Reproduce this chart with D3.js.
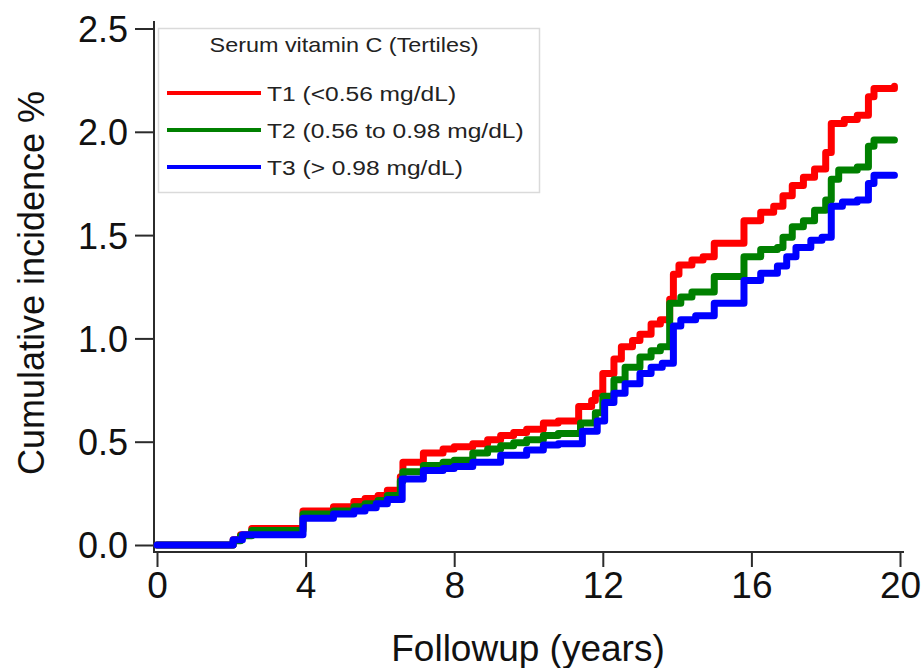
<!DOCTYPE html>
<html>
<head>
<meta charset="utf-8">
<script src="https://cdn.jsdelivr.net/npm/d3@7"></script>
<style>
  html, body { margin: 0; padding: 0; background: #fff; }
  svg { display: block; font-family: "Liberation Sans", Arial, sans-serif; }
</style>
</head>
<body>
<div id="chart"></div>
<script>
// step points: [years, cumulative incidence %]
const T1 = [
  [0, 0], [2.05, 0.025], [2.25, 0.05], [2.55, 0.08], [3.93, 0.165], [4.75, 0.185],
  [5.3, 0.21], [5.6, 0.225], [5.95, 0.24], [6.2, 0.265], [6.55, 0.33], [6.62, 0.40],
  [7.17, 0.445], [7.7, 0.465], [8.0, 0.475], [8.5, 0.49], [8.9, 0.51], [9.25, 0.53],
  [9.6, 0.545], [9.95, 0.56], [10.4, 0.59], [10.8, 0.60], [11.35, 0.67], [11.7, 0.70],
  [11.8, 0.735], [12.0, 0.83], [12.3, 0.90], [12.5, 0.96], [12.8, 0.99], [13.0, 1.02],
  [13.3, 1.07], [13.55, 1.09], [13.8, 1.19], [13.9, 1.31], [14.05, 1.355], [14.4, 1.38],
  [14.7, 1.395], [15.0, 1.46], [15.8, 1.57], [16.25, 1.61], [16.6, 1.64], [16.85, 1.69],
  [17.1, 1.74], [17.4, 1.78], [17.7, 1.82], [18.0, 1.90], [18.15, 2.04], [18.5, 2.06],
  [18.85, 2.08], [19.15, 2.17], [19.3, 2.21], [19.85, 2.22]
];
const T2 = [
  [0, 0], [2.05, 0.02], [2.25, 0.045], [2.55, 0.07], [3.93, 0.15], [4.75, 0.165],
  [5.3, 0.185], [5.6, 0.2], [5.95, 0.215], [6.2, 0.24], [6.55, 0.31], [6.62, 0.355],
  [7.17, 0.385], [7.7, 0.40], [8.0, 0.41], [8.5, 0.445], [8.9, 0.465], [9.25, 0.48],
  [9.6, 0.495], [9.95, 0.51], [10.4, 0.53], [10.8, 0.54], [11.4, 0.59], [11.8, 0.64],
  [12.0, 0.72], [12.3, 0.80], [12.6, 0.86], [13.0, 0.91], [13.3, 0.94], [13.55, 0.96],
  [13.8, 1.17], [14.1, 1.20], [14.4, 1.225], [15.0, 1.30], [15.8, 1.395], [16.25, 1.43],
  [16.7, 1.44], [16.85, 1.49], [17.1, 1.54], [17.4, 1.57], [17.7, 1.62], [18.0, 1.67],
  [18.15, 1.77], [18.35, 1.815], [18.85, 1.83], [19.15, 1.93], [19.3, 1.96], [19.85, 1.96]
];
const T3 = [
  [0, 0], [2.05, 0.025], [2.3, 0.05], [3.93, 0.13], [4.75, 0.15], [5.3, 0.165],
  [5.6, 0.18], [5.9, 0.20], [6.2, 0.22], [6.6, 0.32], [7.17, 0.36], [7.7, 0.37],
  [8.0, 0.38], [8.5, 0.40], [9.25, 0.435], [9.95, 0.46], [10.4, 0.484], [10.8, 0.49],
  [11.45, 0.55], [11.85, 0.60], [12.05, 0.69], [12.3, 0.735], [12.6, 0.78], [13.0, 0.83],
  [13.3, 0.86], [13.6, 0.88], [13.9, 1.06], [14.1, 1.09], [14.5, 1.11], [15.0, 1.17],
  [15.8, 1.28], [16.25, 1.315], [16.7, 1.35], [16.95, 1.395], [17.2, 1.44], [17.6, 1.475],
  [17.9, 1.49], [18.15, 1.64], [18.45, 1.66], [18.85, 1.67], [19.15, 1.75], [19.3, 1.79],
  [19.85, 1.79]
];

const SERIES = [
  { label: 'T1 (<0.56 mg/dL)', color: '#ff0000', values: T1 },
  { label: 'T2 (0.56 to 0.98 mg/dL)', color: '#008000', values: T2 },
  { label: 'T3 (> 0.98 mg/dL)', color: '#0000ff', values: T3 },
];
const LEGEND_TITLE = 'Serum vitamin C (Tertiles)';
const X_TICKS = [0, 4, 8, 12, 16, 20];
const Y_TICKS = [0, 0.5, 1.0, 1.5, 2.0, 2.5];

const width = 924;
const height = 668;

const svg = d3.select('#chart')
  .append('svg')
  .attr('width', width)
  .attr('height', height);

const x = d3.scaleLinear().domain([0, 20]).range([157, 900]);
const y = d3.scaleLinear().domain([0, 2.5]).range([545, 28.5]);

const axisColor = '#2b2b2b';

// y axis
const yAxis = svg.append('g')
  .attr('transform', 'translate(154,0)')
  .call(d3.axisLeft(y).tickValues(Y_TICKS).tickSize(19).tickFormat(d3.format('.1f')));
yAxis.select('.domain').remove();
yAxis.selectAll('.tick line').attr('stroke', axisColor).attr('stroke-width', 2);
yAxis.selectAll('.tick text')
  .attr('x', -26)
  .attr('dy', '0.36em')
  .attr('fill', '#111')
  .attr('font-size', 36)
  .attr('font-family', '"Liberation Sans", Arial, sans-serif');
yAxis.append('line')
  .attr('x1', 0).attr('x2', 0)
  .attr('y1', 21).attr('y2', 553)
  .attr('stroke', axisColor)
  .attr('stroke-width', 2);

// x axis
const xAxis = svg.append('g')
  .attr('transform', 'translate(0,552)')
  .call(d3.axisBottom(x).tickValues(X_TICKS).tickSize(15).tickFormat(d3.format('d')));
xAxis.select('.domain').remove();
xAxis.selectAll('.tick line').attr('stroke', axisColor).attr('stroke-width', 2);
xAxis.selectAll('.tick text')
  .attr('y', 20)
  .attr('dy', '0.71em')
  .attr('fill', '#111')
  .attr('font-size', 37)
  .attr('font-family', '"Liberation Sans", Arial, sans-serif');
xAxis.append('line')
  .attr('x1', 153).attr('x2', 904)
  .attr('y1', 0).attr('y2', 0)
  .attr('stroke', axisColor)
  .attr('stroke-width', 2);

// axis titles
svg.append('text')
  .attr('x', 528)
  .attr('y', 661)
  .attr('text-anchor', 'middle')
  .attr('fill', '#111')
  .attr('font-size', 37)
  .text('Followup (years)');

svg.append('text')
  .attr('transform', 'translate(44,283) rotate(-90)')
  .attr('text-anchor', 'middle')
  .attr('fill', '#111')
  .attr('font-size', 36)
  .text('Cumulative incidence %');

// curves
const line = d3.line()
  .x(d => x(d[0]))
  .y(d => y(d[1]))
  .curve(d3.curveStepAfter);

svg.append('g')
  .selectAll('path')
  .data(SERIES)
  .join('path')
  .attr('d', d => line(d.values))
  .attr('fill', 'none')
  .attr('stroke', d => d.color)
  .attr('stroke-width', 7)
  .attr('stroke-linecap', 'round')
  .attr('stroke-linejoin', 'round');

// legend
const legend = svg.append('g');

legend.append('rect')
  .attr('x', 158.5)
  .attr('y', 28.5)
  .attr('width', 381)
  .attr('height', 164)
  .attr('fill', '#fff')
  .attr('stroke', '#dadada')
  .attr('stroke-width', 1.5);

legend.append('text')
  .attr('transform', 'translate(344,52) scale(1.17,1)')
  .attr('text-anchor', 'middle')
  .attr('fill', '#222')
  .attr('font-size', 20)
  .text(LEGEND_TITLE);

const items = legend.selectAll('g.item')
  .data(SERIES)
  .join('g')
  .attr('class', 'item')
  .attr('transform', (d, i) => `translate(0,${93 + i * 37})`);

items.append('line')
  .attr('x1', 167)
  .attr('x2', 261)
  .attr('stroke', d => d.color)
  .attr('stroke-width', 4);

items.append('text')
  .attr('transform', 'translate(267,7.5) scale(1.17,1)')
  .attr('fill', '#222')
  .attr('font-size', 21)
  .text(d => d.label);
</script>
</body>
</html>
